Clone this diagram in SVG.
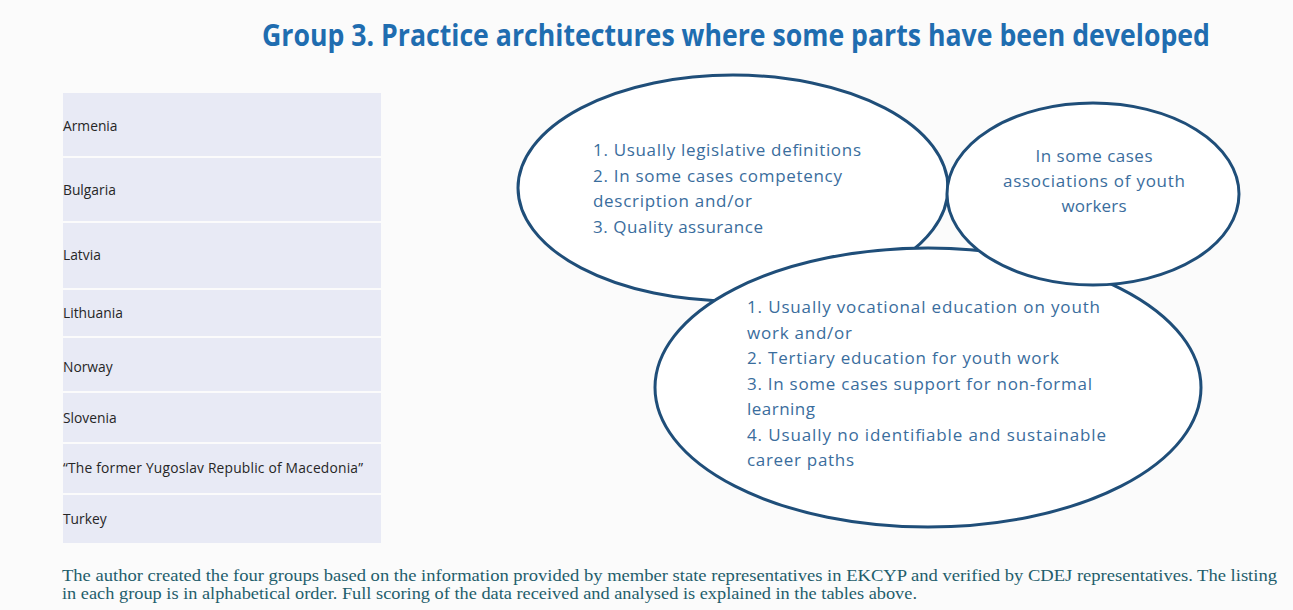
<svg xmlns="http://www.w3.org/2000/svg" width="1293" height="610" viewBox="0 0 1293 610">
<style>
.bg{fill:#fbfbfb}
.title{font-family:"Open Sans","Liberation Sans",sans-serif;font-weight:bold;font-size:31px;fill:#1f6db0}
.row{fill:#e8eaf5}
.cty{font-family:"Open Sans","Liberation Sans",sans-serif;font-size:13.8px;fill:#262626}
.oval{fill:#ffffff;stroke:#1f4e79;stroke-width:3}
.otxt{font-family:"Open Sans","Liberation Sans",sans-serif;font-size:17px;fill:#3a6d9d}
.note{font-family:"Liberation Serif","DejaVu Serif",serif;font-size:16.5px;fill:#1f5e6c}
</style>
<rect class="bg" x="0" y="0" width="1293" height="610"/>

<g id="title">
<text class="title" transform="translate(262,46) scale(0.82,1)" x="0" y="0" textLength="1156" lengthAdjust="spacingAndGlyphs">Group 3. Practice architectures where some parts have been developed</text>
</g>

<g id="country-table">
<g id="row-armenia"><rect class="row" x="63" y="93" width="318" height="63"/><text class="cty" x="63" y="131">Armenia</text></g>
<g id="row-bulgaria"><rect class="row" x="63" y="158" width="318" height="63"/><text class="cty" x="63" y="195">Bulgaria</text></g>
<g id="row-latvia"><rect class="row" x="63" y="223" width="318" height="65"/><text class="cty" x="63" y="260">Latvia</text></g>
<g id="row-lithuania"><rect class="row" x="63" y="290" width="318" height="46"/><text class="cty" x="63" y="318">Lithuania</text></g>
<g id="row-norway"><rect class="row" x="63" y="338" width="318" height="53"/><text class="cty" x="63" y="372">Norway</text></g>
<g id="row-slovenia"><rect class="row" x="63" y="393" width="318" height="49"/><text class="cty" x="63" y="423">Slovenia</text></g>
<g id="row-macedonia"><rect class="row" x="63" y="444" width="318" height="49"/><text class="cty" x="63" y="473" textLength="300">“The former  Yugoslav Republic of Macedonia”</text></g>
<g id="row-turkey"><rect class="row" x="63" y="495" width="318" height="48"/><text class="cty" x="63" y="524">Turkey</text></g>
</g>

<g id="connectors"/>

<g id="oval-definitions">
<ellipse class="oval" cx="733" cy="188" rx="215" ry="113"/>
<text class="otxt" x="593" y="156" textLength="268">1. Usually legislative definitions</text>
<text class="otxt" x="593" y="182" textLength="249">2. In some cases competency</text>
<text class="otxt" x="593" y="207" textLength="159">description and/or</text>
<text class="otxt" x="593" y="233" textLength="170">3. Quality assurance</text>
</g>

<g id="oval-education">
<ellipse class="oval" cx="928" cy="387.5" rx="273" ry="139.5"/>
<text class="otxt" x="747" y="313" textLength="353">1. Usually vocational education on youth</text>
<text class="otxt" x="747" y="338.5" textLength="105">work and/or</text>
<text class="otxt" x="747" y="364" textLength="312">2. Tertiary education for youth work</text>
<text class="otxt" x="747" y="389.5" textLength="345">3. In some cases support for non-formal</text>
<text class="otxt" x="747" y="415" textLength="68">learning</text>
<text class="otxt" x="747" y="440.5" textLength="359">4.  Usually no identifiable and sustainable</text>
<text class="otxt" x="747" y="466" textLength="107">career paths</text>
</g>

<g id="oval-associations">
<ellipse class="oval" cx="1093" cy="194" rx="146" ry="91"/>
<text class="otxt" x="1094" y="162" text-anchor="middle" textLength="117">In some cases</text>
<text class="otxt" x="1094" y="187" text-anchor="middle" textLength="182">associations of youth</text>
<text class="otxt" x="1094" y="212" text-anchor="middle" textLength="65">workers</text>
</g>

<g id="footnote">
<text class="note" x="62" y="581" textLength="1215" lengthAdjust="spacingAndGlyphs">The author  created the four groups based on the information provided by member state representatives in EKCYP and verified by CDEJ representatives. The listing</text>
<text class="note" x="62" y="599" textLength="855" lengthAdjust="spacingAndGlyphs">in each group is in alphabetical order. Full scoring of the data received and analysed is explained in the tables above.</text>
</g>
</svg>
